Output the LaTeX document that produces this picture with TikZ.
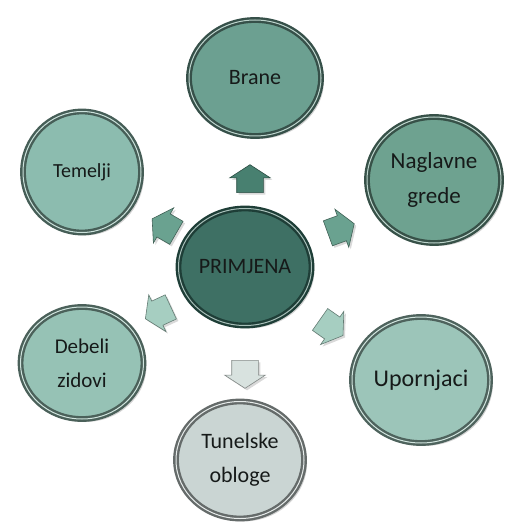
\documentclass[tikz,border=0pt]{standalone}
\usepackage{fontspec}
\setmainfont{Carlito}
\usetikzlibrary{shapes.geometric,shapes.arrows,shadows}

\definecolor{rimdark}{RGB}{30,62,55}
\definecolor{hubfill}{RGB}{62,112,100}
\definecolor{braneC}{RGB}{108,160,145}
\definecolor{gredeC}{RGB}{110,162,144}
\definecolor{temeljiC}{RGB}{140,188,175}
\definecolor{upornC}{RGB}{156,197,185}
\definecolor{zidC}{RGB}{150,194,181}
\definecolor{tunelC}{RGB}{202,213,211}
\definecolor{labelC}{RGB}{22,26,25}
\definecolor{arrowA}{RGB}{72,128,112}
\definecolor{arrowB}{RGB}{106,162,144}
\definecolor{arrowC}{RGB}{166,206,193}
\definecolor{arrowD}{RGB}{216,226,223}

\tikzset{
  disc/.style={ellipse, fill=#1, draw=#1!50!black, line width=2.4pt,
    double=#1!45!white, double distance=1pt, inner sep=0pt,
    text=labelC, align=center, font=\fontsize{21}{34}\selectfont,
    drop shadow={shadow xshift=3pt, shadow yshift=-3pt, opacity=.35}},
  blockarrow/.style={single arrow, fill=#1, draw=#1!60!black, line width=.6pt,
    inner xsep=0pt, inner ysep=13pt, minimum height=28pt,
    single arrow head extend=7pt, single arrow tip angle=114,
    drop shadow={shadow xshift=2pt, shadow yshift=-2pt, opacity=.3}}
}

\begin{document}
\begin{tikzpicture}[x=1pt,y=-1pt]
  \useasboundingbox (0,0) rectangle (510,526);

  % outer discs
  \node[disc=braneC, minimum width=132pt, minimum height=116pt,
    font=\fontsize{22}{30}\selectfont] (brane) at (255,78) {Brane};
  \node[disc=gredeC, minimum width=134pt, minimum height=126pt,
    font=\fontsize{23}{35}\selectfont] (grede) at (434,180) {Naglavne\\grede};
  \node[disc=temeljiC, minimum width=118pt, minimum height=121pt,
    font=\fontsize{20}{30}\selectfont] (temelji) at (82,172) {Temelji};
  \node[disc=upornC, minimum width=138pt, minimum height=126pt,
    font=\fontsize{24}{30}\selectfont] (uporn) at (421,380) {Upornjaci};
  \node[disc=zidC, minimum width=123pt, minimum height=112pt] (zidovi) at (82,363) {Debeli\\zidovi};
  \node[disc=tunelC, minimum width=128pt, minimum height=117pt,
    font=\fontsize{22}{34}\selectfont] (tunel) at (240,460) {Tunelske\\obloge};

  % hub
  \node[disc=hubfill, draw=rimdark, minimum width=133pt, minimum height=117pt,
    font=\fontsize{22}{25}\selectfont] (hub) at (245,267) {PRIMJENA};

  % block arrows
  \node[blockarrow=arrowA, rotate=90] (toBrane) at (250,183) {};
  \node[blockarrow=arrowB, rotate=20] (toGrede) at (337,230) {};
  \node[blockarrow=arrowB, rotate=150] (toTemelji) at (168,228) {};
  \node[blockarrow=arrowC, rotate=205] (toZidovi) at (162,311) {};
  \node[blockarrow=arrowC, rotate=-35] (toUporn) at (328,325) {};
  \node[blockarrow=arrowD, rotate=-90] (toTunel) at (245,370) {};
\end{tikzpicture}
\end{document}
